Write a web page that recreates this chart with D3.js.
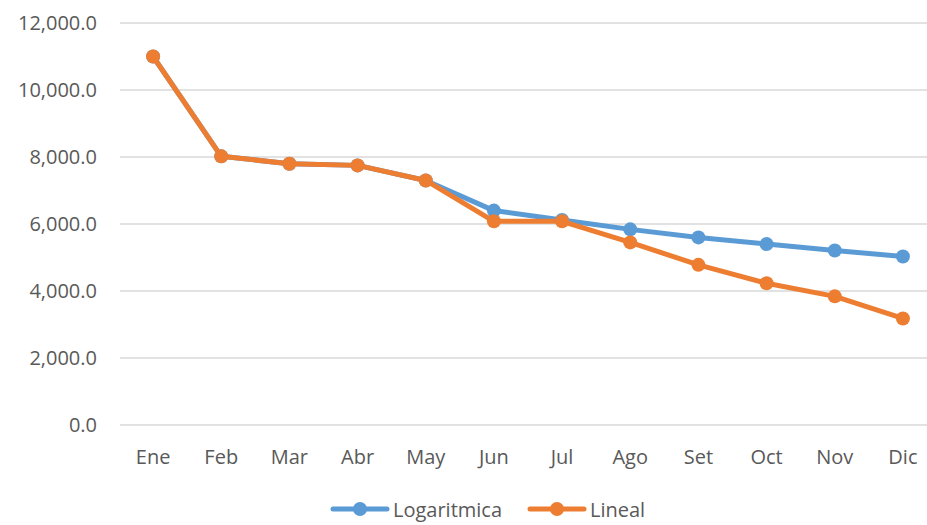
<!DOCTYPE html>
<html>
<head>
<meta charset="utf-8">
<script src="https://cdn.jsdelivr.net/npm/d3@7"></script>
<style>
  body { margin: 0; background: #fff; }
  text { font-family: "Open Sans", Lato, sans-serif; fill: #595959; }
</style>
</head>
<body>
<svg id="chart" width="927" height="525"></svg>
<script>
const months = ['Ene', 'Feb', 'Mar', 'Abr', 'May', 'Jun', 'Jul', 'Ago', 'Set', 'Oct', 'Nov', 'Dic'];
const logaritmica = [11000, 8020, 7800, 7750, 7300, 6400, 6120, 5840, 5600, 5400, 5210, 5030];
const lineal = [11000, 8020, 7800, 7750, 7300, 6080, 6080, 5450, 4780, 4230, 3840, 3180];
const yTicks = [0, 2000, 4000, 6000, 8000, 10000, 12000];

const series = [
  {name: 'Logaritmica', values: logaritmica, color: '#5B9BD5'},
  {name: 'Lineal', values: lineal, color: '#ED7D31'}
];

const svg = d3.select('#chart');

const x = d3.scaleBand().domain(months).range([119, 937]);
const y = d3.scaleLinear().domain([0, 12000]).range([425, 23]);

// gridlines
svg.append('g').selectAll('line').data(yTicks).enter().append('line')
  .attr('x1', 120).attr('x2', 927)
  .attr('y1', d => y(d)).attr('y2', d => y(d))
  .attr('stroke', '#d9d9d9').attr('stroke-width', 1.5);

// y labels
svg.append('g').selectAll('text').data(yTicks).enter().append('text')
  .attr('x', 97).attr('y', d => y(d) + 7)
  .attr('text-anchor', 'end').attr('font-size', 20)
  .text(d => d3.format(',.1f')(d));

// x labels
svg.append('g').selectAll('text').data(months).enter().append('text')
  .attr('x', d => x(d) + x.bandwidth() / 2).attr('y', 464)
  .attr('text-anchor', 'middle').attr('font-size', 20)
  .text(d => d);

const line = d3.line()
  .x((d, i) => x(months[i]) + x.bandwidth() / 2)
  .y(d => y(d));

series.forEach(s => {
  const g = svg.append('g');
  g.append('path').datum(s.values)
    .attr('d', line).attr('fill', 'none')
    .attr('stroke', s.color).attr('stroke-width', 5)
    .attr('stroke-linejoin', 'round');
  g.selectAll('circle').data(s.values).enter().append('circle')
    .attr('cx', (d, i) => x(months[i]) + x.bandwidth() / 2)
    .attr('cy', d => y(d)).attr('r', 7)
    .attr('fill', s.color);
});

// legend
const legendPos = [333, 530];
series.forEach((s, i) => {
  const lg = svg.append('g').attr('transform', 'translate(' + legendPos[i] + ',509)');
  lg.append('line').attr('x1', 0).attr('x2', 54).attr('y1', 0).attr('y2', 0)
    .attr('stroke', s.color).attr('stroke-width', 5).attr('stroke-linecap', 'round');
  lg.append('circle').attr('cx', 27).attr('cy', 0).attr('r', 7).attr('fill', s.color);
  lg.append('text').attr('x', 60).attr('y', 8).attr('font-size', 20).text(s.name);
});
</script>
</body>
</html>
